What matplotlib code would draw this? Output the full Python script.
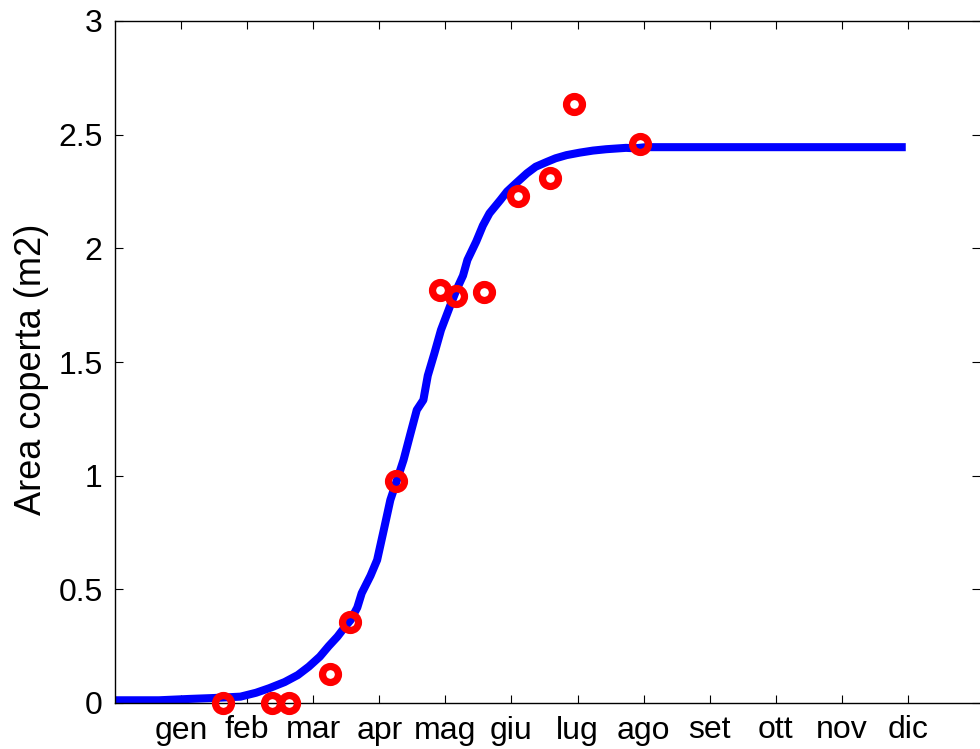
import matplotlib
matplotlib.use("Agg")
import matplotlib.pyplot as plt
import numpy as np

plt.rcParams['font.family'] = ['Liberation Sans', 'DejaVu Sans']

# fitted curve (day of year, covered area m2)
curve_days = [0, 20, 34, 45, 57, 64, 70, 77, 83, 88, 93, 97, 101, 104, 107, 110, 112, 116, 119,
              122, 125, 128, 131, 134, 137, 140, 142, 145, 148, 152, 155, 158, 160, 164, 167, 170,
              175, 178, 182, 187, 191, 196, 200, 205, 211, 217, 223, 232, 236, 241, 260, 300, 359]
curve_area = [0.012, 0.012, 0.018, 0.022, 0.028, 0.045, 0.065, 0.092, 0.123, 0.160, 0.204, 0.250,
              0.292, 0.330, 0.365, 0.420, 0.483, 0.560, 0.629, 0.760, 0.893, 0.980, 1.069, 1.180,
              1.289, 1.333, 1.440, 1.538, 1.641, 1.743, 1.817, 1.880, 1.949, 2.030, 2.100, 2.154,
              2.213, 2.250, 2.286, 2.330, 2.359, 2.380, 2.396, 2.410, 2.421, 2.430, 2.436, 2.442,
              2.440, 2.445, 2.445, 2.445, 2.445]

# measured points
obs_days = [49.2, 71.1, 79.1, 97.6, 106.7, 127.6, 147.5, 154.8, 167.5, 182.8, 197.5, 208.4, 238.3]
obs_area = [0.0, 0.0, 0.0, 0.126, 0.355, 0.978, 1.817, 1.790, 1.807, 2.230, 2.308, 2.634, 2.458]

month_ticks = [30, 60, 90, 120, 150, 180, 210, 240, 270, 300, 330, 360]
month_labels = ['gen', 'feb', 'mar', 'apr', 'mag', 'giu', 'lug', 'ago', 'set', 'ott', 'nov', 'dic']

fig = plt.figure(figsize=(9.8, 7.49), dpi=100)
ax = fig.add_axes([115 / 980, 46 / 749, 865 / 980, 682 / 749])

ax.plot(curve_days, curve_area, color='#0000ff', lw=5.8, solid_capstyle='butt', zorder=2)
ax.plot(obs_days, obs_area, 'o', mfc='none', mec='#ff0000', ms=11.5, mew=5.2, zorder=3,
        clip_on=False)

ax.set_xlim(0, 392.7)
ax.set_ylim(0, 3)
ax.set_xticks(month_ticks)
ax.set_xticklabels(month_labels)
ax.set_yticks(np.arange(0, 3.01, 0.5))
ax.set_yticklabels(['0', '0.5', '1', '1.5', '2', '2.5', '3'])

ax.tick_params(direction='in', length=6, width=0.8, top=True, right=True, labelsize=23)
ax.tick_params(axis='x', pad=9)
ax.tick_params(axis='y', pad=9)
for s in ax.spines.values():
    s.set_linewidth(1.0)
ax.spines['right'].set_visible(False)

ax.set_ylabel('Area coperta (m2)', fontsize=26)
ax.yaxis.set_label_coords(-0.076, 0.49)

fig.savefig('out.png', dpi=100)
